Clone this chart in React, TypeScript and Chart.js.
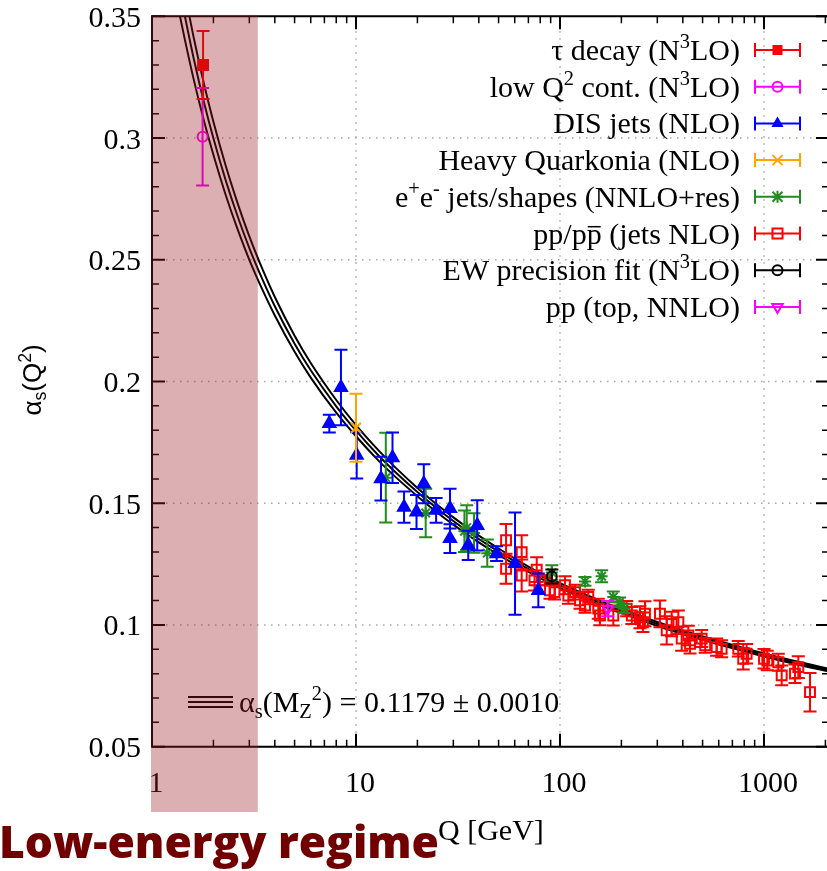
import React, { useEffect, useRef } from 'react';
import { Chart, registerables } from 'chart.js';

Chart.register(...registerables);

// ---------------- data ----------------
// running coupling curve: central value and the +/- band edges
const curveQ = [1.3, 1.45, 1.6, 1.8, 2.0, 2.3, 2.6, 3.0, 3.5, 4.0, 5.0, 6.0, 8.0, 10, 13, 16, 20, 25, 30, 40, 50, 70, 91.19, 120, 160, 200, 300, 400, 600, 800, 1000, 1400, 2100];
const curveMid = [0.3704, 0.350, 0.3328, 0.3145, 0.2999, 0.2825, 0.2690, 0.2548, 0.2414, 0.2309, 0.2155, 0.2046, 0.1898, 0.1798, 0.1693, 0.1619, 0.1546, 0.1478, 0.1427, 0.1353, 0.1301, 0.1229, 0.1178, 0.1132, 0.1088, 0.1057, 0.1004, 0.0970, 0.0927, 0.0898, 0.0877, 0.0847, 0.0814];
const curveHigh = [0.3814, 0.3597, 0.3414, 0.3221, 0.3067, 0.2885, 0.2744, 0.2596, 0.2456, 0.2347, 0.2188, 0.2076, 0.1924, 0.1821, 0.1714, 0.1638, 0.1563, 0.1494, 0.1442, 0.1367, 0.1314, 0.1240, 0.1188, 0.11415, 0.1097, 0.10655, 0.1012, 0.09775, 0.0934, 0.09046, 0.08833, 0.0853, 0.08196];
const curveLow = [0.3594, 0.3403, 0.3242, 0.3069, 0.2931, 0.2765, 0.2636, 0.2500, 0.2372, 0.2271, 0.2122, 0.2016, 0.1872, 0.1775, 0.1672, 0.1600, 0.1529, 0.1462, 0.1412, 0.1339, 0.1288, 0.1218, 0.1168, 0.11225, 0.1079, 0.10485, 0.0996, 0.09625, 0.0920, 0.08914, 0.08707, 0.0841, 0.08084];

// tau decay (N3LO)
const tauQ = [1.78];
const tauA = [0.330];
const tauE = [0.014];

// low Q^2 continuum (N3LO)
const lowQ = [1.77];
const lowA = [0.3005];
const lowE = [0.020];

// DIS jets (NLO)
const disQ = [7.4, 8.44, 10.08, 13.26, 15.1, 17.2, 19.8, 21.5, 24.7, 28.9, 28.9, 35.5, 39.3, 48.9, 60.2, 78.3];
const disA = [0.1827, 0.1975, 0.1697, 0.1601, 0.1687, 0.1484, 0.1464, 0.158, 0.1471, 0.1478, 0.1355, 0.1327, 0.1409, 0.1293, 0.1252, 0.1142];
const disE = [0.0036, 0.0155, 0.0095, 0.009, 0.0104, 0.0064, 0.007, 0.008, 0.0051, 0.0082, 0.0059, 0.006, 0.0103, 0.003, 0.021, 0.0069];

// Heavy Quarkonia (NLO)
const hqQ = [10.0];
const hqA = [0.181];
const hqE = [0.014];

// e+e- jets/shapes (NNLO+res)
const eeQ = [14.0, 21.96, 34.0, 34.9, 37.9, 44.0, 91.2, 132.6, 160, 182.5, 196, 206];
const eeA = [0.1605, 0.146, 0.1385, 0.1400, 0.1378, 0.1295, 0.1215, 0.1179, 0.120, 0.1115, 0.1093, 0.1067];
const eeE = [0.0184, 0.010, 0.0085, 0.0092, 0.0081, 0.0056, 0.003, 0.0018, 0.0025, 0.0022, 0.002, 0.0018];

// pp / ppbar (jets NLO)
const ppQ = [54.4, 54.4, 64.9, 64.9, 76.9, 75, 84.2, 89.3, 94.0, 105.8, 109.9, 118.5, 125.4, 132.6, 137.6, 154, 157, 182.5, 212.3, 225, 246.6, 261, 255, 309, 333.5, 352.7, 380.4, 395, 425.6, 434, 495, 515, 586, 620, 748, 791, 822, 1000, 1038, 1175, 1221, 1419, 1473, 1681];
const ppA = [0.1348, 0.1231, 0.1299, 0.1203, 0.1227, 0.1183, 0.1183, 0.1142, 0.1135, 0.1163, 0.1121, 0.1135, 0.1101, 0.108, 0.1115, 0.1067, 0.1039, 0.1039, 0.1067, 0.1039, 0.1032, 0.1046, 0.1011, 0.1046, 0.0978, 0.1004, 0.1011, 0.0944, 0.0957, 0.0923, 0.0944, 0.0916, 0.0909, 0.0902, 0.0902, 0.0861, 0.0882, 0.0861, 0.0854, 0.0847, 0.0793, 0.0800, 0.0827, 0.0724];
const ppE = [0.0067, 0.0062, 0.0070, 0.0066, 0.0051, 0.0041, 0.002, 0.0034, 0.003, 0.0037, 0.0034, 0.003, 0.0034, 0.003, 0.003, 0.0041, 0.004, 0.0041, 0.0031, 0.0035, 0.0045, 0.0051, 0.004, 0.0055, 0.0058, 0.005, 0.0048, 0.005, 0.004, 0.004, 0.0035, 0.003, 0.0035, 0.0035, 0.0032, 0.0044, 0.004, 0.004, 0.004, 0.0035, 0.0041, 0.0038, 0.0045, 0.0079];

// EW precision fit (N3LO)
const ewQ = [91.19];
const ewA = [0.1199];
const ewE = [0.0029];

// pp (top, NNLO)
const topQ = [171.3];
const topA = [0.1067];
const topE = [0.0031];

// axis ticks
const xMajor = [1, 10, 100, 1000];
const xTickLabels = ['1', '10', '100', '1000'];
const yMajor = [0.05, 0.1, 0.15, 0.2, 0.25, 0.3, 0.35];
const yTickLabels = ['0.05', '0.1', '0.15', '0.2', '0.25', '0.3', '0.35'];
const xGrid = [10, 100, 1000];
const yGrid = [0.1, 0.15, 0.2, 0.25, 0.3];
const lowEnergyLimit = 3.3;

// ---------------- styling ----------------
const SERIF = "'Liberation Serif', 'Times New Roman', serif";
const RED = '#ff0000';
const MAG = '#ff00ff';
const BLUE = '#0000ff';
const ORANGE = '#ffa500';
const GREEN = '#228b22';
const BLACK = '#000000';

type Seg = { t: string; sup?: boolean; sub?: boolean; over?: boolean };

const legendItems: { segs: Seg[]; color: string; marker: string }[] = [
  { segs: [{ t: 'τ decay (N' }, { t: '3', sup: true }, { t: 'LO)' }], color: RED, marker: 'rectFill' },
  { segs: [{ t: 'low Q' }, { t: '2', sup: true }, { t: ' cont. (N' }, { t: '3', sup: true }, { t: 'LO)' }], color: MAG, marker: 'circle' },
  { segs: [{ t: 'DIS jets (NLO)' }], color: BLUE, marker: 'triangle' },
  { segs: [{ t: 'Heavy Quarkonia (NLO)' }], color: ORANGE, marker: 'crossRot' },
  { segs: [{ t: 'e' }, { t: '+', sup: true }, { t: 'e' }, { t: '-', sup: true }, { t: ' jets/shapes (NNLO+res)' }], color: GREEN, marker: 'star' },
  { segs: [{ t: 'pp/p' }, { t: 'p', over: true }, { t: ' (jets NLO)' }], color: RED, marker: 'rect' },
  { segs: [{ t: 'EW precision fit (N' }, { t: '3', sup: true }, { t: 'LO)' }], color: BLACK, marker: 'circle' },
  { segs: [{ t: 'pp (top, NNLO)' }], color: MAG, marker: 'triDown' },
];

function drawRich(ctx: any, segs: Seg[], x: number, y: number, size: number, family: string, align: 'left' | 'right' | 'center') {
  const small = size * 0.68;
  const widths = segs.map((s) => {
    ctx.font = `${s.sup || s.sub ? small : size}px ${family}`;
    return ctx.measureText(s.t).width;
  });
  const total = widths.reduce((a, b) => a + b, 0);
  let cx = align === 'right' ? x - total : align === 'center' ? x - total / 2 : x;
  ctx.textAlign = 'left';
  ctx.textBaseline = 'alphabetic';
  segs.forEach((s, i) => {
    const fs = s.sup || s.sub ? small : size;
    ctx.font = `${fs}px ${family}`;
    const dy = s.sup ? -size * 0.4 : s.sub ? size * 0.2 : 0;
    ctx.fillText(s.t, cx, y + dy);
    if (s.over) {
      ctx.save();
      ctx.lineWidth = 1.5;
      ctx.strokeStyle = ctx.fillStyle;
      ctx.beginPath();
      ctx.moveTo(cx + 1, y - size * 0.56);
      ctx.lineTo(cx + widths[i] - 1, y - size * 0.56);
      ctx.stroke();
      ctx.restore();
    }
    cx += widths[i];
  });
  return total;
}

function drawMarker(ctx: any, kind: string, x: number, y: number, color: string) {
  ctx.save();
  ctx.strokeStyle = color;
  ctx.fillStyle = color;
  ctx.lineWidth = 2;
  ctx.beginPath();
  switch (kind) {
    case 'rectFill':
      ctx.fillRect(x - 5, y - 5, 10, 10);
      break;
    case 'rect':
      ctx.strokeRect(x - 5, y - 5, 10, 10);
      break;
    case 'circle':
      ctx.arc(x, y, 5, 0, Math.PI * 2);
      ctx.stroke();
      break;
    case 'triangle':
      ctx.moveTo(x, y - 7);
      ctx.lineTo(x + 6.1, y + 3.5);
      ctx.lineTo(x - 6.1, y + 3.5);
      ctx.closePath();
      ctx.fill();
      break;
    case 'triDown':
      ctx.moveTo(x, y + 6);
      ctx.lineTo(x + 5.2, y - 3);
      ctx.lineTo(x - 5.2, y - 3);
      ctx.closePath();
      ctx.stroke();
      break;
    case 'crossRot':
      ctx.moveTo(x - 5, y - 5); ctx.lineTo(x + 5, y + 5);
      ctx.moveTo(x - 5, y + 5); ctx.lineTo(x + 5, y - 5);
      ctx.stroke();
      break;
    case 'star':
      ctx.moveTo(x - 5, y - 5); ctx.lineTo(x + 5, y + 5);
      ctx.moveTo(x - 5, y + 5); ctx.lineTo(x + 5, y - 5);
      ctx.moveTo(x - 6, y); ctx.lineTo(x + 6, y);
      ctx.moveTo(x, y - 6); ctx.lineTo(x, y + 6);
      ctx.stroke();
      break;
  }
  ctx.restore();
}

const toPts = (q: number[], a: number[]) => q.map((v, i) => ({ x: v, y: a[i] }));

const errorBarPlugin = {
  id: 'errorBars',
  beforeDatasetDraw(chart: any, args: any) {
    const ds = chart.data.datasets[args.index];
    if (!ds.errors) return;
    const { ctx } = chart;
    const xs = chart.scales.x;
    const ys = chart.scales.y;
    ctx.save();
    ctx.strokeStyle = ds.barColor;
    ctx.lineWidth = 2;
    ds.data.forEach((p: any, i: number) => {
      const px = xs.getPixelForValue(p.x);
      const top = ys.getPixelForValue(p.y + ds.errors[i]);
      const bot = ys.getPixelForValue(p.y - ds.errors[i]);
      ctx.beginPath();
      ctx.moveTo(px, top); ctx.lineTo(px, bot);
      ctx.moveTo(px - 6.5, top); ctx.lineTo(px + 6.5, top);
      ctx.moveTo(px - 6.5, bot); ctx.lineTo(px + 6.5, bot);
      ctx.stroke();
    });
    ctx.restore();
  },
};

const gridPlugin = {
  id: 'dottedGrid',
  beforeDatasetsDraw(chart: any) {
    const { ctx, chartArea: a } = chart;
    const xs = chart.scales.x;
    const ys = chart.scales.y;
    ctx.save();
    ctx.strokeStyle = '#a8a8a8';
    ctx.lineWidth = 1.5;
    ctx.setLineDash([1.5, 5.5]);
    yGrid.forEach((v) => {
      const py = ys.getPixelForValue(v);
      ctx.beginPath(); ctx.moveTo(a.left + 14, py); ctx.lineTo(a.right, py); ctx.stroke();
    });
    xGrid.forEach((v) => {
      const px = xs.getPixelForValue(v);
      ctx.beginPath(); ctx.moveTo(px, a.bottom - 14); ctx.lineTo(px, a.top); ctx.stroke();
    });
    ctx.restore();
  },
};

const framePlugin = {
  id: 'frameAndText',
  afterDraw(chart: any) {
    const { ctx, chartArea: a } = chart;
    const xs = chart.scales.x;
    const ys = chart.scales.y;
    ctx.save();
    // frame
    ctx.strokeStyle = '#000';
    ctx.lineWidth = 2;
    ctx.beginPath();
    ctx.rect(a.left, a.top, a.right - a.left, a.bottom - a.top);
    ctx.stroke();
    // y ticks
    for (let k = 5; k <= 35; k++) {
      const v = k / 100;
      const py = ys.getPixelForValue(v);
      const major = k % 5 === 0;
      const len = major ? 13 : 7;
      ctx.lineWidth = major ? 2 : 1.5;
      ctx.beginPath();
      ctx.moveTo(a.left, py); ctx.lineTo(a.left + len, py);
      ctx.moveTo(a.right, py); ctx.lineTo(a.right - len, py);
      ctx.stroke();
    }
    // x ticks
    for (let d = 1; d <= 1000; d *= 10) {
      for (let m = 1; m <= 9; m++) {
        const v = d * m;
        if (v > xs.max) break;
        const px = xs.getPixelForValue(v);
        const major = m === 1;
        const len = major ? 13 : 7;
        ctx.lineWidth = major ? 2 : 1.5;
        ctx.beginPath();
        ctx.moveTo(px, a.bottom); ctx.lineTo(px, a.bottom - len);
        ctx.moveTo(px, a.top); ctx.lineTo(px, a.top + len);
        ctx.stroke();
      }
    }
    // tick labels
    ctx.fillStyle = '#000';
    ctx.font = `30px ${SERIF}`;
    ctx.textAlign = 'right';
    ctx.textBaseline = 'alphabetic';
    yMajor.forEach((v, i) => {
      ctx.fillText(yTickLabels[i], a.left - 11, ys.getPixelForValue(v) + 10.5);
    });
    ctx.textAlign = 'center';
    xMajor.forEach((v, i) => {
      ctx.fillText(xTickLabels[i], xs.getPixelForValue(v) + 4, 792);
    });
    // axis titles
    drawRich(ctx, [{ t: 'Q [GeV]' }], 438, 840, 30, SERIF, 'left');
    ctx.save();
    ctx.translate(41, 380);
    ctx.rotate(-Math.PI / 2);
    drawRich(ctx, [{ t: 'α' }, { t: 's', sub: true }, { t: '(Q' }, { t: '2', sup: true }, { t: ')' }], 0, 0, 26, "'Liberation Sans', Arial, sans-serif", 'center');
    ctx.restore();
    // legend
    legendItems.forEach((it, i) => {
      const ry = 50 + i * 36.7;
      ctx.fillStyle = '#000';
      drawRich(ctx, it.segs, 740, ry + 10, 30, SERIF, 'right');
      ctx.strokeStyle = it.color;
      ctx.lineWidth = 2;
      ctx.beginPath();
      ctx.moveTo(755, ry); ctx.lineTo(800, ry);
      ctx.moveTo(755, ry - 7); ctx.lineTo(755, ry + 7);
      ctx.moveTo(800, ry - 7); ctx.lineTo(800, ry + 7);
      ctx.stroke();
      drawMarker(ctx, it.marker, 777.5, ry, it.color);
    });
    // fit annotation
    ctx.strokeStyle = '#000';
    ctx.lineWidth = 2;
    [697, 702, 707].forEach((yy) => {
      ctx.beginPath(); ctx.moveTo(188, yy); ctx.lineTo(233, yy); ctx.stroke();
    });
    ctx.fillStyle = '#000';
    drawRich(ctx, [{ t: 'α' }, { t: 's', sub: true }, { t: '(M' }, { t: 'Z', sub: true }, { t: '2', sup: true }, { t: ') = 0.1179 ± 0.0010' }], 239, 712, 30, SERIF, 'left');
    // low-energy shading
    const sx = xs.getPixelForValue(lowEnergyLimit);
    ctx.fillStyle = 'rgba(155, 27, 35, 0.35)';
    ctx.fillRect(a.left - 1, a.top - 1, sx - a.left + 1, 812 - a.top + 1);
    // label
    ctx.fillStyle = '#700000';
    ctx.font = `800 45px 'Open Sans', 'Noto Sans', sans-serif`;
    ctx.textAlign = 'left';
    ctx.textBaseline = 'alphabetic';
    const w = ctx.measureText('Low-energy regime').width;
    ctx.save();
    ctx.translate(-1, 858);
    ctx.scale(440 / w, 1);
    ctx.fillText('Low-energy regime', 0, 0);
    ctx.restore();
    ctx.restore();
  },
};

export default function App() {
  const ref = useRef<HTMLCanvasElement>(null);
  useEffect(() => {
    const canvas = ref.current!;
    const mkData = (label: string, q: number[], a: number[], e: number[], color: string, extra: any) => ({
      label,
      data: toPts(q, a),
      errors: e,
      barColor: color,
      showLine: false,
      pointBorderColor: color,
      pointBorderWidth: 2,
      pointBackgroundColor: 'rgba(0,0,0,0)',
      pointHoverRadius: 0,
      ...extra,
    });
    const curve = (label: string, vals: number[]) => ({
      label,
      data: toPts(curveQ, vals),
      showLine: true,
      borderColor: '#000',
      borderWidth: 2,
      pointRadius: 0,
      cubicInterpolationMode: 'monotone',
      fill: false,
    });
    const chart = new Chart(canvas, {
      type: 'scatter',
      data: {
        datasets: [
          mkData('τ decay (N3LO)', tauQ, tauA, tauE, RED, { pointStyle: 'rect', pointRadius: 7, pointBackgroundColor: RED }),
          mkData('low Q2 cont. (N3LO)', lowQ, lowA, lowE, MAG, { pointStyle: 'circle', pointRadius: 5 }),
          mkData('pp (top, NNLO)', topQ, topA, topE, MAG, { pointStyle: 'triangle', pointRotation: 180, pointRadius: 6 }),
          mkData('EW precision fit (N3LO)', ewQ, ewA, ewE, BLACK, { pointStyle: 'circle', pointRadius: 5 }),
          mkData('Heavy Quarkonia (NLO)', hqQ, hqA, hqE, ORANGE, { pointStyle: 'crossRot', pointRadius: 7 }),
          mkData('DIS jets (NLO)', disQ, disA, disE, BLUE, { pointStyle: 'triangle', pointRadius: 7, pointBackgroundColor: BLUE }),
          mkData('e+e- jets/shapes (NNLO+res)', eeQ, eeA, eeE, GREEN, { pointStyle: 'star', pointRadius: 6 }),
          mkData('pp/ppbar (jets NLO)', ppQ, ppA, ppE, RED, { pointStyle: 'rect', pointRadius: 7 }),
          curve('fit high', curveHigh),
          curve('fit central', curveMid),
          curve('fit low', curveLow),
        ] as any,
      },
      options: {
        animation: false,
        responsive: false,
        devicePixelRatio: 1,
        events: [],
        layout: { padding: { left: 152, top: 16.3, right: 11, bottom: 124.3 } },
        plugins: { legend: { display: false }, tooltip: { enabled: false } },
        scales: {
          x: { type: 'logarithmic', min: 1, max: 2083, display: false },
          y: { type: 'linear', min: 0.05, max: 0.35, display: false },
        },
      } as any,
      plugins: [gridPlugin, errorBarPlugin, framePlugin],
    });
    return () => chart.destroy();
  }, []);
  return (
    <div style={{ position: 'absolute', left: 0, top: 0, width: 827, height: 871, overflow: 'hidden', background: '#fff' }}>
      <canvas ref={ref} width={840} height={871} style={{ display: 'block' }} />
    </div>
  );
}
